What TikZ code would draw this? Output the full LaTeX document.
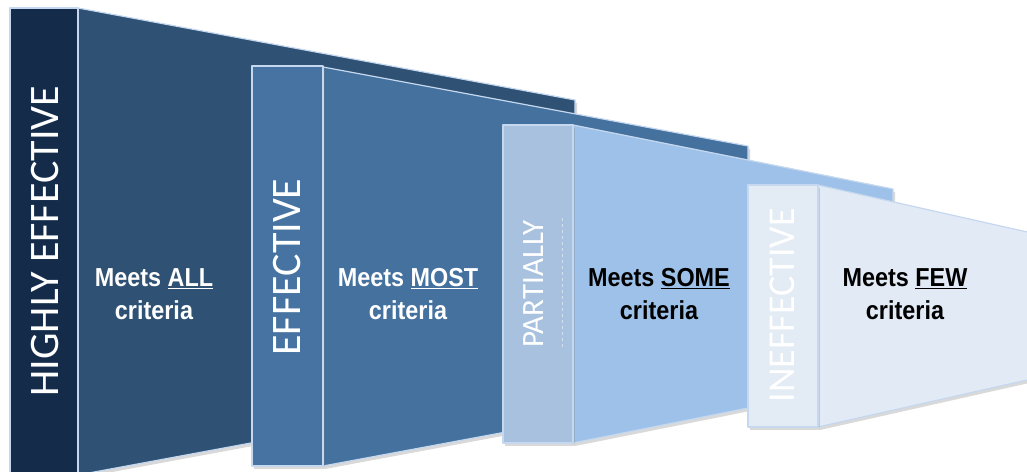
\documentclass[tikz,border=0pt]{standalone}
\usepackage{fontspec}
\newfontfamily\barfont{Carlito}
\newfontfamily\critfont[FakeStretch=0.9]{Liberation Sans}
\usetikzlibrary{shadows}
\definecolor{hiBar}{HTML}{142C4A}
\definecolor{hiBody}{HTML}{2F5274}
\definecolor{efBar}{HTML}{4673A1}
\definecolor{efBody}{HTML}{44719E}
\definecolor{paBar}{HTML}{A7C1DF}
\definecolor{paBody}{HTML}{9DC1E8}
\definecolor{inBar}{HTML}{E3EBF5}
\definecolor{inBody}{HTML}{E2EAF5}
\definecolor{rim}{HTML}{C5D8EF}

\begin{document}
\begin{tikzpicture}[x=1bp,y=-1bp,
    rimline/.style={draw=rim,line width=1.2bp,line join=round},
    shade/.style={drop shadow={opacity=.3,shadow xshift=2bp,shadow yshift=-3bp}},
    barlabel/.style={rotate=90,text=white,inner sep=0pt},
    critlabel/.style={align=center,inner sep=0pt,
      font=\critfont\bfseries\fontsize{26bp}{33bp}\selectfont}]
    \useasboundingbox (0,0) rectangle (1027,472);
    \clip (0,0) rectangle (1027,472);
    % Highly effective: body and side bar
    \path[rimline,fill=hiBody,shade] (78,8) -- (575,100) -- (575,383) -- (78,475) -- cycle;
    \path[rimline,fill=hiBar] (10,8) rectangle (78,480);
    % Effective
    \path[rimline,fill=efBody,shade] (323,67) -- (748,146) -- (748,387) -- (323,466) -- cycle;
    \path[rimline,fill=efBar,shade] (252,66) rectangle (323,466);
    % Partially
    \path[rimline,fill=paBody,shade] (573,125) -- (893,189) -- (893,379) -- (573,443) -- cycle;
    \path[rimline,fill=paBar,shade] (503,125) rectangle (573,443);
    \draw[white,opacity=.5,dashed,line width=.6bp] (562,218) -- (562,348);
    % Ineffective (runs off the right edge)
    \path[rimline,fill=inBody,shade] (818,185) -- (1045,236) -- (1045,376) -- (818,427) -- cycle;
    \path[rimline,fill=inBar,shade] (748,185) rectangle (818,427);

    % side bar labels
    \node[barlabel,font=\barfont\fontsize{42bp}{42bp}\selectfont] (hiLabel) at (45,241) {HIGHLY EFFECTIVE};
    \node[barlabel,font=\barfont\fontsize{42bp}{42bp}\selectfont] (efLabel) at (287.5,267) {EFFECTIVE};
    \node[barlabel,font=\barfont\fontsize{31bp}{31bp}\selectfont] (paLabel) at (534,284) {PARTIALLY};
    \node[barlabel,font=\barfont\fontsize{38bp}{38bp}\selectfont] (inLabel) at (782,305) {INEFFECTIVE};

    % criteria labels
    \node[critlabel,text=white] (hiCrit) at (154,294) {Meets \underline{ALL}\\criteria};
    \node[critlabel,text=white] (efCrit) at (408,294) {Meets \underline{MOST}\\criteria};
    \node[critlabel,text=black] (paCrit) at (659,294) {Meets \underline{SOME}\\criteria};
    \node[critlabel,text=black] (inCrit) at (905,294) {Meets \underline{FEW}\\criteria};
\end{tikzpicture}
\end{document}
